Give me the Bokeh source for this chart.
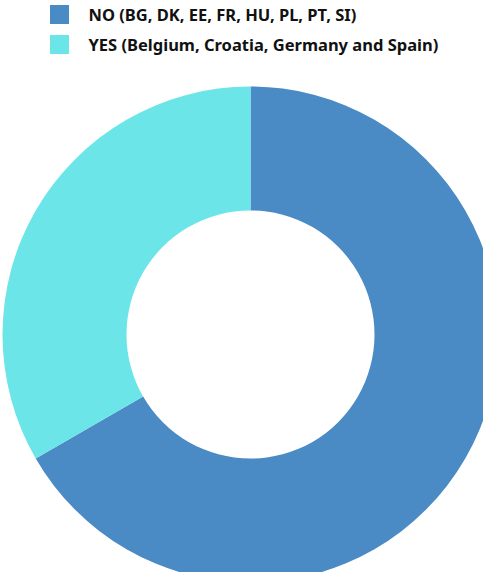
import numpy as np
from bokeh.plotting import figure
from bokeh.models import Range1d, ColumnDataSource
from bokeh.core.properties import value
from bokeh.embed import file_html
from bokeh.resources import INLINE

categories = ["NO (BG, DK, EE, FR, HU, PL, PT, SI)", "YES (Belgium, Croatia, Germany and Spain)"]
counts = [8, 4]
colors = ["#4A8AC5", "#6BE5E8"]

W, H = 483, 572
p = figure(width=W, height=H, output_backend="svg", toolbar_location=None,
           x_range=Range1d(0, W), y_range=Range1d(0, H), min_border=0)
p.axis.visible = False
p.grid.visible = False
p.outline_line_color = None
p.background_fill_color = "white"

vals = np.array(counts, dtype=float)
frac = vals / vals.sum()
cum = np.concatenate([[0], np.cumsum(frac)])
start = np.pi / 2 - cum[:-1] * 2 * np.pi
end = np.pi / 2 - cum[1:] * 2 * np.pi

cx, cy = 250, H - 334
src = ColumnDataSource(dict(start=start, end=end, color=colors, name=categories))
p.annular_wedge(x=cx, y=cy, inner_radius=124, outer_radius=248,
                inner_radius_units="screen", outer_radius_units="screen",
                start_angle="start", end_angle="end", direction="clock",
                fill_color="color", line_color="white", line_width=0, source=src)

ly = [H - 14 - 30 * i for i in range(len(categories))]
lsrc = ColumnDataSource(dict(x=[59] * len(categories), y=ly, tx=[88] * len(categories),
                             color=colors, name=categories))
p.rect(x="x", y="y", width=19, height=19, width_units="screen", height_units="screen",
       fill_color="color", line_color=None, source=lsrc)
p.text(x="tx", y="y", text="name", text_font=value("Noto Sans"), text_font_style="bold",
       text_font_size="16.5px", text_baseline="middle", text_color="#111111", source=lsrc)

open("out.html", "w").write(file_html(p, INLINE))
